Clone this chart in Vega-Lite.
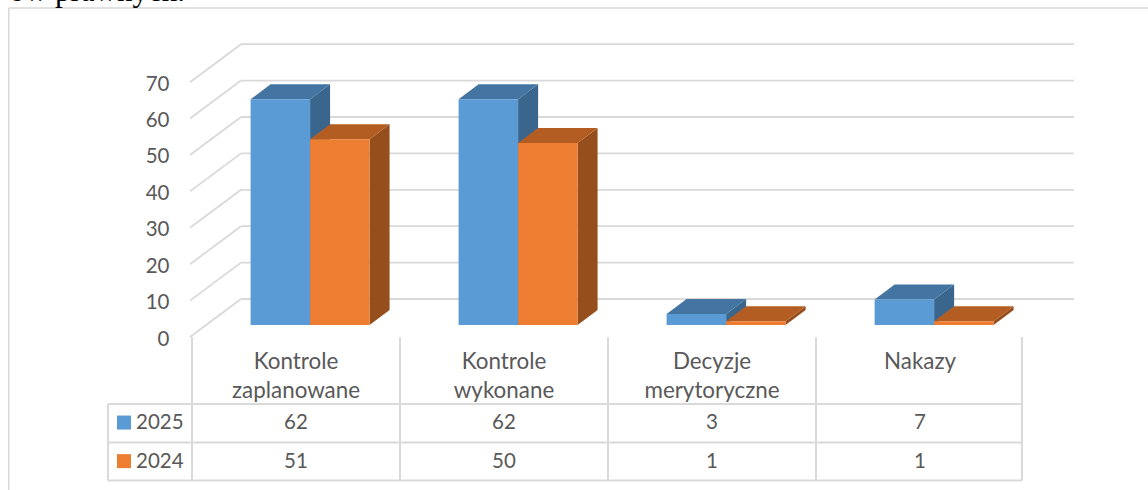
{
"$schema":"https://vega.github.io/schema/vega-lite/v6.json",
"width":1148,"height":490,"padding":0,"autosize":{"type":"none"},"background":"white",
"config":{"view":{"stroke":null},"text":{"font":"Lato"},"axis":{"labelFont":"Lato"}},
"data":{"values":[
{"category":"Kontrole zaplanowane","series":"2025","value":62},
{"category":"Kontrole wykonane","series":"2025","value":62},
{"category":"Decyzje merytoryczne","series":"2025","value":3},
{"category":"Nakazy","series":"2025","value":7},
{"category":"Kontrole zaplanowane","series":"2024","value":51},
{"category":"Kontrole wykonane","series":"2024","value":50},
{"category":"Decyzje merytoryczne","series":"2024","value":1},
{"category":"Nakazy","series":"2024","value":1}
]},
"transform":[
{"calculate":"indexof(['Kontrole zaplanowane','Kontrole wykonane','Decyzje merytoryczne','Nakazy'],datum.category)","as":"idx"},
{"calculate":"datum.series=='2025'?0:1","as":"s"},
{"calculate":"datum.idx+0.2817+datum.s*0.286","as":"x0"},
{"calculate":"datum.x0+0.286","as":"x1"},
{"calculate":"3.3+datum.value","as":"top"},
{"calculate":"datum.idx+0.5","as":"cx"},
{"calculate":"datum.s==0?-23.7:-34.3","as":"rowY"}
],
"resolve":{"scale":{"color":"independent"}},
"layer":[
{"data":{"values":[{"tick":0},{"tick":10},{"tick":20},{"tick":30},{"tick":40},{"tick":50},{"tick":60},{"tick":70}]},
 "transform":[{"calculate":"datum.tick+10.44","as":"back"}],
 "mark":{"type":"rule","color":"#d9d9d9","strokeWidth":1.8},
 "encoding":{
  "x":{"datum":0.2356,"type":"quantitative","scale":{"domain":[-0.923,4.596],"nice":false,"zero":false},"axis":null},
  "x2":{"datum":4.24},
  "y":{"field":"back","type":"quantitative","scale":{"domain":[-42.03,92.58],"nice":false,"zero":false},"axis":{"values":[0,10,20,30,40,50,60,70],"offset":-169,"ticks":false,"domain":false,"grid":false,"title":null,"labelFontSize":20.5,"labelColor":"#595959","labelPadding":0,"labelFont":"Lato","labelOffset":2}}
 }},
{"data":{"values":[{"tick":0},{"tick":10},{"tick":20},{"tick":30},{"tick":40},{"tick":50},{"tick":60},{"tick":70}]},
 "transform":[{"calculate":"datum.tick+10.44","as":"back"}],
 "mark":{"type":"rule","color":"#d9d9d9","strokeWidth":1.8},
 "encoding":{
  "x":{"datum":-0.0096,"type":"quantitative"},
  "x2":{"datum":0.2356},
  "y":{"field":"tick","type":"quantitative"},
  "y2":{"field":"back"}
 }},
{"transform":[{"calculate":"[0,1]","as":"t"},{"flatten":["t"]},{"calculate":"datum.x1+datum.t*0.0962","as":"sx"},{"calculate":"datum.top+datum.t*4.12","as":"sy"},{"calculate":"3.3+datum.t*4.12","as":"sy2"}],
 "mark":{"type":"area","line":false,"opacity":1},
 "encoding":{
  "x":{"field":"sx","type":"quantitative"},
  "y":{"field":"sy","type":"quantitative"},
  "y2":{"field":"sy2"},
  "detail":{"field":"category"},
  "color":{"field":"series","type":"nominal","scale":{"domain":["2025","2024"],"range":["#3A668D","#964F1C"]},"legend":null}
 }},
{"transform":[{"calculate":"[0,1]","as":"t"},{"flatten":["t"]},{"calculate":"datum.x0+datum.t*0.0962","as":"tx0"},{"calculate":"datum.x1+datum.t*0.0962","as":"tx1"},{"calculate":"datum.top+datum.t*4.12","as":"ty"}],
 "mark":{"type":"area","orient":"horizontal","line":false,"opacity":1},
 "encoding":{
  "x":{"field":"tx0","type":"quantitative"},
  "x2":{"field":"tx1"},
  "y":{"field":"ty","type":"quantitative"},
  "detail":{"field":"category"},
  "color":{"field":"series","type":"nominal","scale":{"domain":["2025","2024"],"range":["#4474A1","#B45D22"]},"legend":null}
 }},
{"transform":[{"calculate":"3.3","as":"base"}],
 "mark":{"type":"rect"},
 "encoding":{
  "x":{"field":"x0","type":"quantitative"},
  "x2":{"field":"x1"},
  "y":{"field":"top","type":"quantitative"},
  "y2":{"field":"base"},
  "color":{"field":"series","type":"nominal","scale":{"domain":["2025","2024"],"range":["#5B9BD5","#ED7D31"]},"legend":null}
 }},
{"data":{"values":[{"boundary":0},{"boundary":1},{"boundary":2},{"boundary":3},{"boundary":3.99}]},
 "mark":{"type":"rule","color":"#d9d9d9","strokeWidth":2},
 "encoding":{"x":{"field":"boundary","type":"quantitative"},"y":{"datum":0,"type":"quantitative"},"y2":{"datum":-39.4}}},
{"data":{"values":[{"edge":"left"}]},
 "mark":{"type":"rule","color":"#d9d9d9","strokeWidth":2},
 "encoding":{"x":{"datum":-0.404,"type":"quantitative"},"y":{"datum":-18.4,"type":"quantitative"},"y2":{"datum":-39.4}}},
{"data":{"values":[{"row":-18.4},{"row":-29},{"row":-39.4}]},
 "mark":{"type":"rule","color":"#d9d9d9","strokeWidth":2},
 "encoding":{"x":{"datum":-0.404,"type":"quantitative"},"x2":{"datum":3.99},"y":{"field":"row","type":"quantitative"}}},
{"data":{"values":[{"edge":"top"}]},
 "mark":{"type":"rule","color":"#d9d9d9","strokeWidth":1.6},
 "encoding":{"x":{"datum":-0.881,"type":"quantitative"},"x2":{"datum":4.596},"y":{"datum":90.4,"type":"quantitative"}}},
{"data":{"values":[{"edge":"left"}]},
 "mark":{"type":"rule","color":"#d9d9d9","strokeWidth":1.6},
 "encoding":{"x":{"datum":-0.881,"type":"quantitative"},"y":{"datum":90.4,"type":"quantitative"},"y2":{"datum":-42.03}}},
{"transform":[{"filter":"datum.s==0"}],
 "mark":{"type":"text","fontSize":22.4,"color":"#595959","align":"center","baseline":"top","lineBreak":" ","lineHeight":29.5},
 "encoding":{"x":{"field":"cx","type":"quantitative"},"y":{"datum":-3.75,"type":"quantitative"},"text":{"field":"category"}}},
{"mark":{"type":"text","fontSize":20.5,"color":"#595959","align":"center","baseline":"middle"},
 "encoding":{"x":{"field":"cx","type":"quantitative"},"y":{"field":"rowY","type":"quantitative"},"text":{"field":"value","type":"quantitative"}}},
{"transform":[{"filter":"datum.idx==0"}],
 "mark":{"type":"text","fontSize":20.5,"color":"#595959","align":"left","baseline":"middle"},
 "encoding":{"x":{"datum":-0.269,"type":"quantitative"},"y":{"field":"rowY","type":"quantitative"},"text":{"field":"series"}}},
{"transform":[{"filter":"datum.idx==0"}],
 "mark":{"type":"square","size":196,"opacity":1},
 "encoding":{"x":{"datum":-0.327,"type":"quantitative"},"y":{"datum":-23.5,"type":"quantitative"},"detail":{"field":"category"},
  "color":{"value":"#5B9BD5"},"opacity":{"condition":{"test":"datum.s==0","value":1},"value":0}}},
{"transform":[{"filter":"datum.idx==0"}],
 "mark":{"type":"square","size":196,"opacity":1},
 "encoding":{"x":{"datum":-0.327,"type":"quantitative"},"y":{"datum":-34.1,"type":"quantitative"},
  "color":{"value":"#ED7D31"},"opacity":{"condition":{"test":"datum.s==1","value":1},"value":0}}},
{"data":{"values":[{"text":"ów prawnych."}]},
 "mark":{"type":"text","font":"Liberation Serif","fontSize":31,"color":"#000000","align":"right","baseline":"alphabetic"},
 "encoding":{"x":{"datum":-0.034,"type":"quantitative"},"y":{"datum":92.2,"type":"quantitative"},"text":{"field":"text"}}}
]
}
